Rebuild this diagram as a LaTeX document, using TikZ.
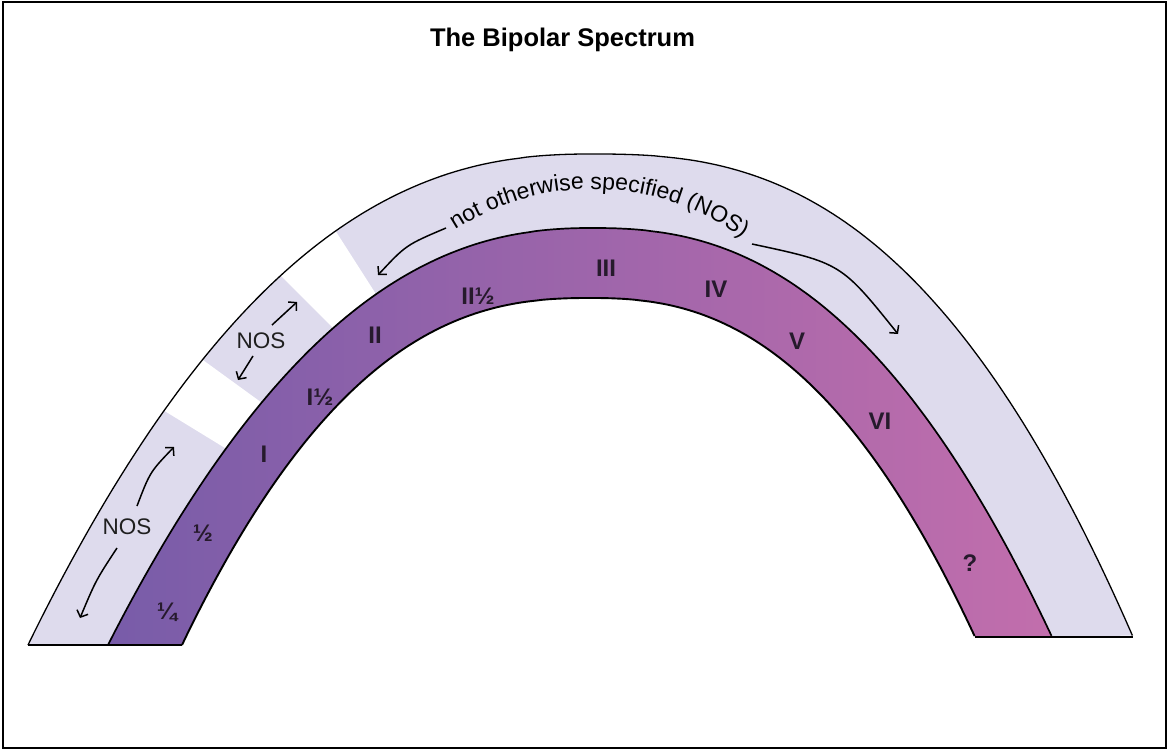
\documentclass[tikz,border=0pt]{standalone}
\usepackage{fontspec}
\setmainfont{Liberation Sans}
\usetikzlibrary{arrows.meta,decorations.text}

\definecolor{lav}{RGB}{222,219,237}
\definecolor{purL}{RGB}{120,92,169}
\definecolor{purM}{RGB}{160,106,179}
\definecolor{purR}{RGB}{194,110,172}
\definecolor{lbl}{RGB}{38,26,44}

% #1 apex x, #2 apex y, #3 left half-width, #4 left height, #5 right half-width, #6 right height, #7 left power, #8 right power
\newcommand{\archfwd}[8]{plot[domain=1:0.002,samples=80] ({#1-#3*\x},{#2+#4*pow(\x,#7)}) -- plot[domain=0.002:1,samples=80] ({#1+#5*\x},{#2+#6*pow(\x,#8)})}
\newcommand{\archrevc}[8]{-- plot[domain=1:0.002,samples=80] ({#1+#5*\x},{#2+#6*pow(\x,#8)}) -- plot[domain=0.002:1,samples=80] ({#1-#3*\x},{#2+#4*pow(\x,#7)})}

\begin{document}
\begin{tikzpicture}[x=1pt,y=-1pt,
  numlab/.style={font=\bfseries\fontsize{24}{26}\selectfont, text=lbl, inner sep=0pt},
  noslab/.style={font=\fontsize{22.5}{24}\selectfont, text=black!88, inner sep=0pt},
  arr/.style={line width=1.5pt, -{Straight Barb[length=5.5pt,width=12pt]}},
  curve/.style={line width=1.5pt, black}]
\useasboundingbox (0,0) rectangle (1169,751);

% light band
\fill[lav] \archfwd{592}{154}{564}{491}{541}{483}{2.35}{2.58} \archrevc{592}{228}{484}{417}{460}{409}{2.28}{2.4} -- cycle;

% white gaps in the light band
\begin{scope}
\clip \archfwd{592}{154}{564}{491}{541}{483}{2.35}{2.58} \archrevc{592}{228}{484}{417}{460}{409}{2.28}{2.4} -- cycle;
\fill[white] (145,399) -- (243,459) -- (280,416) -- (185,347) -- cycle;
\fill[white] (268,263) -- (350,345) -- (390,316) -- (326,216) -- cycle;
\end{scope}

% purple band
\shade[left color=purL, middle color=purM, right color=purR]
  \archfwd{592}{228}{484}{417}{460}{409}{2.28}{2.4} \archrevc{590}{298}{408}{347}{385}{339}{2.45}{2.45} -- cycle;

% outlines
\draw[curve, line width=1.3pt] \archfwd{592}{154}{564}{491}{541}{483}{2.35}{2.58};
\draw[curve, line width=1.7pt] \archfwd{592}{228}{484}{417}{460}{409}{2.28}{2.4};
\draw[curve, line width=1.9pt] \archfwd{590}{298}{408}{347}{385}{339}{2.45}{2.45};
\coordinate (oL) at (28,645);
\coordinate (iL) at (182,645);
\coordinate (oR) at (1133,637);
\coordinate (iR) at (975,637);
\draw[curve, line width=1.8pt] (oL) -- (iL);
\draw[curve, line width=1.8pt] (iR) -- (oR);

% curved text
\path[decorate, decoration={text along path, text align=center,
  text={|\fontsize{23}{27}\selectfont|not otherwise specified (NOS)}}]
  plot[domain=136.4:40.4,samples=80] ({593+252*cos(\x)},{441-252*sin(\x)});

% arrows of the top label
\coordinate (a1s) at (446,228); \coordinate (a1c) at (406,245); \coordinate (a1e) at (378,275);
\coordinate (a2s) at (752,244); \coordinate (a2c) at (841,263); \coordinate (a2e) at (898,334);
\draw[arr] (a1s) .. controls (a1c) .. (a1e);
\draw[arr] (a2s) .. controls (a2c) .. (a2e);

% lower NOS
\node[noslab] (nos1) at (127,527) {NOS};
\coordinate (a3s) at (137,506); \coordinate (a3c) at (150,472); \coordinate (a3e) at (174,447);
\coordinate (a4s) at (117,548); \coordinate (a4c) at (96,580); \coordinate (a4e) at (80,618);
\draw[arr] (a3s) .. controls (a3c) .. (a3e);
\draw[arr] (a4s) .. controls (a4c) .. (a4e);

% middle NOS
\node[noslab] (nos2) at (261,341) {NOS};
\coordinate (a5s) at (272,325); \coordinate (a5e) at (297,302);
\coordinate (a6s) at (253,356); \coordinate (a6e) at (238,380);
\draw[arr] (a5s) -- (a5e);
\draw[arr] (a6s) -- (a6e);

% band labels
\node[numlab] (q14) at (167,612) {¼};
\node[numlab] (q12) at (203,533) {½};
\node[numlab] (r1) at (264,454) {I};
\node[numlab] (r1h) at (320,397) {I½};
\node[numlab] (r2) at (375,335) {II};
\node[numlab] (r2h) at (478,296) {II½};
\node[numlab] (r3) at (606,268) {III};
\node[numlab] (r4) at (716,289) {IV};
\node[numlab] (r5) at (797,341) {V};
\node[numlab] (r6) at (880,421) {VI};
\node[numlab] (rq) at (970,563) {?};

% title
\node[font=\bfseries\fontsize{25.5}{30}\selectfont, anchor=base, inner sep=0pt] (title) at (562.5,47) {The Bipolar Spectrum};

% frame
\draw[line width=1.6pt] (3,2) rectangle (1166,748);
\end{tikzpicture}
\end{document}
